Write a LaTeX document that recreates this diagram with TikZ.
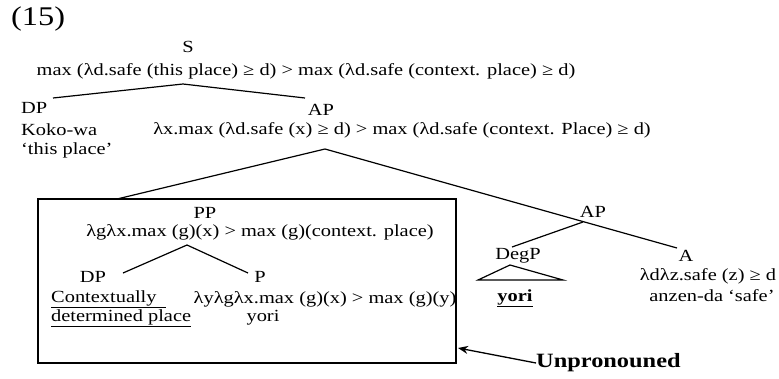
\documentclass[tikz,border=0pt]{standalone}
\usepackage{fontspec}
\setmainfont{Liberation Serif}[FakeStretch=1.2]
\usetikzlibrary{arrows.meta}
\begin{document}
\begin{tikzpicture}[x=1pt,y=-1pt,
  every node/.style={inner sep=0pt, font=\fontsize{17}{19}\selectfont},
  br/.style={line width=1.2pt},
  boxst/.style={draw, line width=1.3pt, minimum width=418pt, minimum height=164pt}]
\useasboundingbox (0,0) rectangle (779,378);
% title
\node[anchor=west, font=\fontsize{27}{30}\selectfont] (num) at (11,19) {(15)};
% S level
\node (S) at (188,47) {S};
\node (Sf) at (306,71) {max (λd.safe (this place) ≥ d) > max (λd.safe (context. place) ≥ d)};
\coordinate (sJ) at (183,84);
\coordinate (dp1J) at (53,98);
\coordinate (ap1J) at (305,98);
\draw[br] (dp1J) -- (sJ) -- (ap1J);
\node[anchor=west] (DP1) at (21,108) {DP};
\node (AP1) at (321,110) {AP};
\node[anchor=west] (koko) at (21,130) {Koko-wa};
\node[anchor=west] (this) at (21,150) {‘this place’};
\node (APf) at (402,130) {λx.max (λd.safe (x) ≥ d) > max (λd.safe (context. Place) ≥ d)};
% AP branches
\coordinate (apJ) at (325,149);
\coordinate (boxJ) at (117,199);
\coordinate (aJ) at (677,248);
\node[boxst] (box) at (247,281) {};
\draw[br] (boxJ) -- (apJ) -- (aJ);
% inside box
\node (PP) at (205,213) {PP};
\node (PPf) at (260,232) {λgλx.max (g)(x) > max (g)(context. place)};
\coordinate (ppJ) at (187,245);
\coordinate (dp2J) at (123,273);
\coordinate (pJ) at (248,273);
\draw[br] (dp2J) -- (ppJ) -- (pJ);
\node (DP2) at (93,277) {DP};
\node (P) at (260,277) {P};
\node[anchor=west] (ctx) at (51,299) {\underline{Contextually\hspace{0.55em}}};
\node[anchor=west] (det) at (51,318) {\underline{determined place}};
\node (Pf) at (325,299) {λyλgλx.max (g)(x) > max (g)(y)};
\node (yori1) at (263,318) {yori};
% lower AP
\node (AP2) at (593,212) {AP};
\coordinate (ap2J) at (583,222);
\coordinate (degJ) at (512,247);
\draw[br] (ap2J) -- (degJ);
\node (DegP) at (518,256) {DegP};
\coordinate (triT) at (510,265);
\coordinate (triL) at (478,280);
\coordinate (triR) at (563,280);
\draw[br] (triT) -- (triL) -- (triR) -- cycle;
\node (yori2) at (515,298) {\textbf{\underline{yori}}};
\node (A) at (686,256) {A};
\node (Af) at (708,276) {λdλz.safe (z) ≥ d};
\node (anz) at (712,296) {anzen-da ‘safe’};
% annotation
\node[anchor=west, font=\fontsize{20.3}{22}\selectfont\bfseries] (unp) at (536,363) {Unpronouned};
\coordinate (tip) at (458,348);
\draw[line width=1.3pt, -{Stealth[length=10pt,width=8pt]}] (unp.west) -- (tip);
\end{tikzpicture}
\end{document}
